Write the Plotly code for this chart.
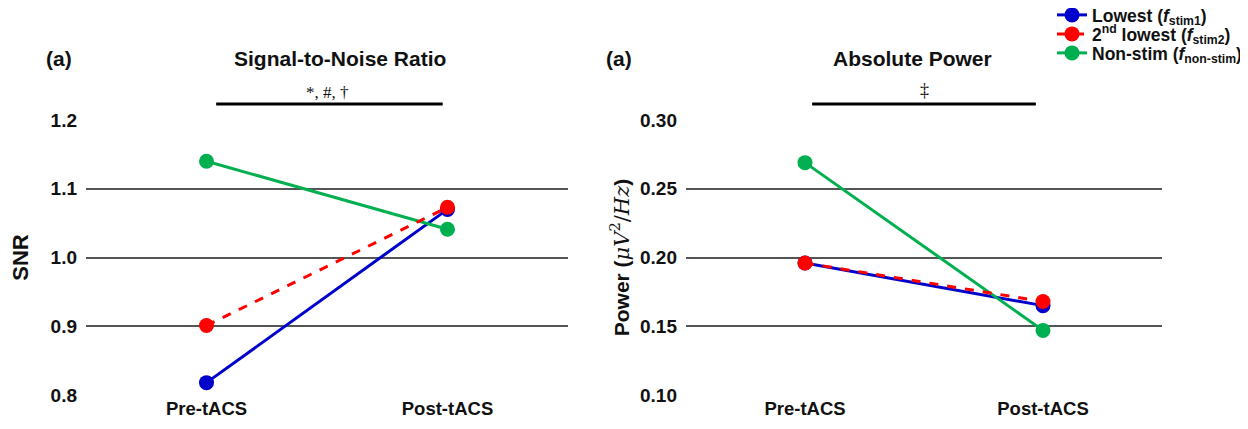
import plotly.graph_objects as go

conditions = ["Pre-tACS", "Post-tACS"]
series_names = [
    "<b>Lowest (<i>f</i><sub>stim1</sub>)</b>",
    "<b>2<sup>nd</sup> lowest (<i>f</i><sub>stim2</sub>)</b>",
    "<b>Non-stim (<i>f</i><sub>non-stim</sub>)</b>",
]
snr_lowest = [0.818, 1.070]
snr_second = [0.901, 1.073]
snr_nonstim = [1.140, 1.041]
pow_lowest = [0.196, 0.165]
pow_second = [0.196, 0.168]
pow_nonstim = [0.269, 0.147]
snr_ticks = [0.8, 0.9, 1.0, 1.1, 1.2]
pow_ticks = [0.10, 0.15, 0.20, 0.25, 0.30]

colors = ["#0000CC", "#FF0000", "#00B050"]
dashes = ["solid", "dash", "solid"]
legend_ids = ["legend", "legend2", "legend3"]

FONT = "Liberation Sans, Arial, sans-serif"
SERIF = "Liberation Serif, Times New Roman, serif"
fig = go.Figure()

snr_series = [snr_lowest, snr_second, snr_nonstim]
pow_series = [pow_lowest, pow_second, pow_nonstim]
order = [0, 2, 1]
for i in order:
    fig.add_trace(go.Scatter(
        x=[0, 1], y=snr_series[i], mode="lines+markers",
        name=series_names[i], legend=legend_ids[i],
        line=dict(color=colors[i], width=3, dash=dashes[i]),
        marker=dict(color=colors[i], size=15),
        xaxis="x", yaxis="y", showlegend=True,
    ))
for i in order:
    fig.add_trace(go.Scatter(
        x=[0, 1], y=pow_series[i], mode="lines+markers",
        name=series_names[i],
        line=dict(color=colors[i], width=3, dash=dashes[i]),
        marker=dict(color=colors[i], size=15),
        xaxis="x2", yaxis="y2", showlegend=False,
    ))

OFF = 8  # page body margin
W, H = 1248 - 2 * OFF, 429 - 2 * OFF
L1, R1 = 86 - OFF, 568 - OFF
L2, R2 = 686 - OFF, 1162 - OFF
top, bot = 120 - OFF, 395 - OFF

xcommon = dict(range=[-0.5, 1.5], tickvals=[0, 1], ticktext=["<b>%s</b>" % c for c in conditions],
               showgrid=False, zeroline=False, showline=False, ticks="",
               tickfont=dict(family=FONT, size=18.5, color="#111"), fixedrange=True)
ycommon = dict(showgrid=True, gridcolor="#555555", gridwidth=2, zeroline=False, showline=False,
               ticks="", ticklabelstandoff=8, tickfont=dict(family=FONT, size=19, color="#111"))

leg_common = dict(xanchor="left", yanchor="middle", xref="container", yref="container",
                  font=dict(family=FONT, size=17.5, color="#111"), bgcolor="rgba(0,0,0,0)",
                  itemwidth=30)
row_y = [15, 34, 53]
legends = {}
for k, lid in enumerate(legend_ids):
    legends[lid] = dict(x=(1052 - OFF) / W, y=1 - (row_y[k] - OFF) / H, **leg_common)

fig.update_layout(
    width=W, height=H,
    margin=dict(l=0, r=0, t=top, b=H - bot, autoexpand=False),
    paper_bgcolor="white", plot_bgcolor="white",
    font=dict(family=FONT, color="#111"),
    xaxis=dict(domain=[L1 / W, R1 / W], anchor="y", **xcommon),
    xaxis2=dict(domain=[L2 / W, R2 / W], anchor="y2", **xcommon),
    yaxis=dict(range=[0.8, 1.2], tickvals=snr_ticks,
               ticktext=["<b>%.1f</b>" % v for v in snr_ticks], anchor="x",
               title=dict(text="<b>SNR</b>", font=dict(family=FONT, size=22), standoff=16), **ycommon),
    yaxis2=dict(range=[0.10, 0.30], tickvals=pow_ticks,
                ticktext=["<b>%.2f</b>" % v for v in pow_ticks], anchor="x2",
                title=dict(text="<b>Power (</b><span style='font-family:DejaVu Serif'><i>μV</i><sup>2</sup>/<i>Hz</i></span><b>)</b>",
                           font=dict(family=FONT, size=21), standoff=4), **ycommon),
    showlegend=True,
    **legends,
)

ph = bot - top
def py(pix):
    return (bot - (pix - OFF)) / ph

fig.add_shape(type="line", xref="x", yref="paper", x0=0.04, x1=0.98, y0=py(104), y1=py(104),
              line=dict(color="black", width=3))
fig.add_shape(type="line", xref="x2", yref="paper", x0=0.03, x1=0.97, y0=py(104), y1=py(104),
              line=dict(color="black", width=3))

ann = [
    dict(x=0.5, xref="x", y=py(92), text="*, #, †", font=dict(family=SERIF, size=17)),
    dict(x=0.5, xref="x2", y=py(90), text="‡", font=dict(family=SERIF, size=18)),
    dict(x=(340 - OFF) / W, xref="paper", y=py(58), text="<b>Signal-to-Noise Ratio</b>", font=dict(family=FONT, size=21)),
    dict(x=(912 - OFF) / W, xref="paper", y=py(58), text="<b>Absolute Power</b>", font=dict(family=FONT, size=21)),
    dict(x=(59 - OFF) / W, xref="paper", y=py(58), text="<b>(a)</b>", font=dict(family=FONT, size=21)),
    dict(x=(619 - OFF) / W, xref="paper", y=py(58), text="<b>(a)</b>", font=dict(family=FONT, size=21)),
]
for a in ann:
    fig.add_annotation(yref="paper", showarrow=False, xanchor="center", yanchor="middle", **a)

fig.write_html("out.html")
